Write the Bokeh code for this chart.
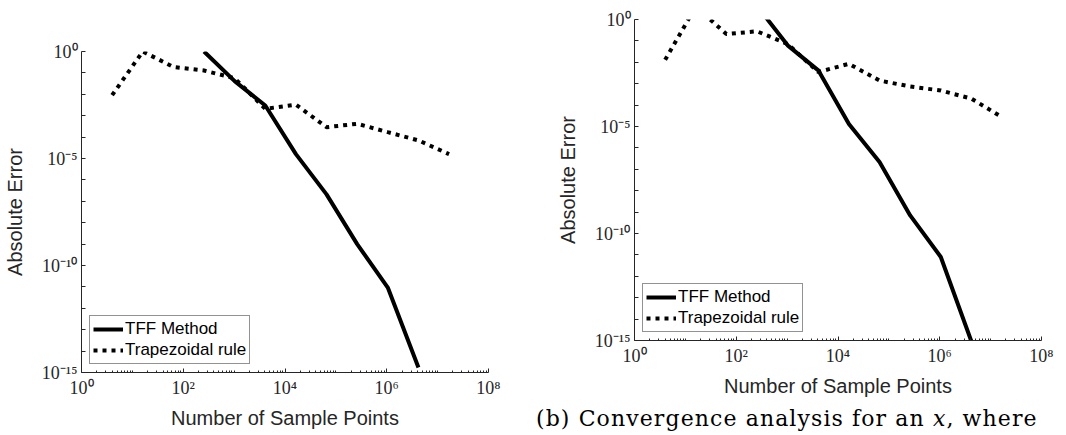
from bokeh.plotting import figure
from bokeh.models import Range1d, FixedTicker, CustomJSTickFormatter, Legend, LegendItem, Div
from bokeh.layouts import row, column
from bokeh.embed import file_html
from bokeh.resources import INLINE

# ---------------- data ----------------
n_trap = [4, 16, 64, 256, 1024, 4096, 16384, 65536, 262144, 1048576, 4194304, 16777216]
n_tff = [256, 1024, 4096, 16384, 65536, 262144, 1048576, 4194304]

trap_a = [9.1e-3, 1.0, 0.19, 0.13, 0.056, 2.1e-3, 3.3e-3, 2.9e-4, 4.2e-4, 1.7e-4, 7.0e-5, 1.6e-5]
tff_a = [1.0, 0.041, 3.0e-3, 1.6e-5, 2.1e-7, 1.0e-9, 9.3e-12, 1.7e-15]

trap_b = [1.3e-2, 4.0, 0.21, 0.28, 0.072, 3.5e-3, 8.5e-3, 1.4e-3, 7.4e-4, 4.8e-4, 2.0e-4, 2.7e-5]
tff_b = [4.3, 0.062, 4.2e-3, 1.3e-5, 2.2e-7, 7.0e-10, 8.0e-12, 9.0e-16]

x_major = [1.0, 1e2, 1e4, 1e6, 1e8]
x_minor = [k * 10.0 ** d for d in range(0, 8) for k in range(1, 10) if not (k == 1 and d % 2 == 0)]
y_major = [1e-15, 1e-10, 1e-5, 1.0]
y_minor = [10.0 ** e for e in range(-15, 1) if e % 5 != 0]

labels = ["TFF Method", "Trapezoidal rule"]
caption = "(b) Convergence analysis for an <i>x</i>, where"

AX = "#262626"
SUP_JS = """
const e = Math.round(Math.log10(tick));
const m = {"0":"\\u2070","1":"\\u00b9","2":"\\u00b2","3":"\\u00b3","4":"\\u2074","5":"\\u2075",
           "6":"\\u2076","7":"\\u2077","8":"\\u2078","9":"\\u2079","-":"\\u207b"};
return "10" + String(e).split("").map(c => m[c]).join("");
"""


def make_fig(trap, tff, height, top, left, right, bottom):
    p = figure(width=533, height=height, x_axis_type="log", y_axis_type="log",
               x_range=Range1d(1, 1e8), y_range=Range1d(1e-15, 1),
               output_backend="svg", toolbar_location=None,
               min_border_top=top, min_border_left=left,
               min_border_right=right, min_border_bottom=bottom)
    p.outline_line_color = None
    p.grid.visible = False
    p.background_fill_color = "white"
    p.border_fill_color = "white"

    r1 = p.line(n_tff, tff, line_color="black", line_width=4)
    r2 = p.line(n_trap, trap, line_color="black", line_width=4, line_dash="4 5")

    for ax in (p.xaxis[0], p.yaxis[0]):
        ax.axis_line_color = AX
        ax.axis_line_width = 1
        ax.major_tick_line_color = AX
        ax.minor_tick_line_color = AX
        ax.major_tick_out = 0
        ax.minor_tick_out = 0
        ax.major_label_text_font = "Liberation Serif"
        ax.major_label_text_font_size = "18px"
        ax.major_label_text_color = AX
        ax.axis_label_text_font = "Liberation Sans"
        ax.axis_label_text_font_size = "20px"
        ax.axis_label_text_font_style = "normal"
        ax.axis_label_text_color = AX
        ax.formatter = CustomJSTickFormatter(code=SUP_JS)

    p.xaxis.ticker = FixedTicker(ticks=x_major, minor_ticks=x_minor)
    p.yaxis.ticker = FixedTicker(ticks=y_major, minor_ticks=y_minor)
    p.xaxis.major_tick_in = 4
    p.xaxis.minor_tick_in = 2
    p.yaxis.major_tick_in = 4
    p.yaxis.minor_tick_in = 4
    p.xaxis.major_label_standoff = 5
    p.yaxis.major_label_standoff = 4
    p.xaxis.axis_label_standoff = 6
    p.yaxis.axis_label_standoff = 13
    p.xaxis.axis_label = "Number of Sample Points"
    p.yaxis.axis_label = "Absolute Error"

    leg = Legend(items=[LegendItem(label=labels[0], renderers=[r1]),
                        LegendItem(label=labels[1], renderers=[r2])],
                 location="bottom_left")
    leg.margin = 8
    leg.padding = 3
    leg.spacing = 1
    leg.glyph_width = 30
    leg.glyph_height = 20
    leg.label_height = 20
    leg.label_standoff = 2
    leg.label_text_font = "Liberation Sans"
    leg.label_text_font_size = "17px"
    leg.label_text_color = "black"
    leg.border_line_color = AX
    leg.border_line_width = 1
    leg.background_fill_color = "white"
    leg.background_fill_alpha = 1.0
    p.add_layout(leg)
    return p


pa = make_fig(trap_a, tff_a, height=435, top=51, left=81, right=45, bottom=63)
pb = make_fig(trap_b, tff_b, height=400, top=19, left=101, right=25, bottom=60)

cap = Div(text=caption, width=533, height=35, margin=(0, 0, 0, 0),
          styles={"font-family": "'DejaVu Serif', 'Liberation Serif', serif",
                  "font-size": "22px", "letter-spacing": "1.1px",
                  "white-space": "nowrap", "overflow": "hidden",
                  "padding-left": "3px", "padding-top": "3px", "color": "black"})

layout = row(pa, column(pb, cap))

open("out.html", "w", encoding="utf-8").write(file_html(layout, INLINE))
